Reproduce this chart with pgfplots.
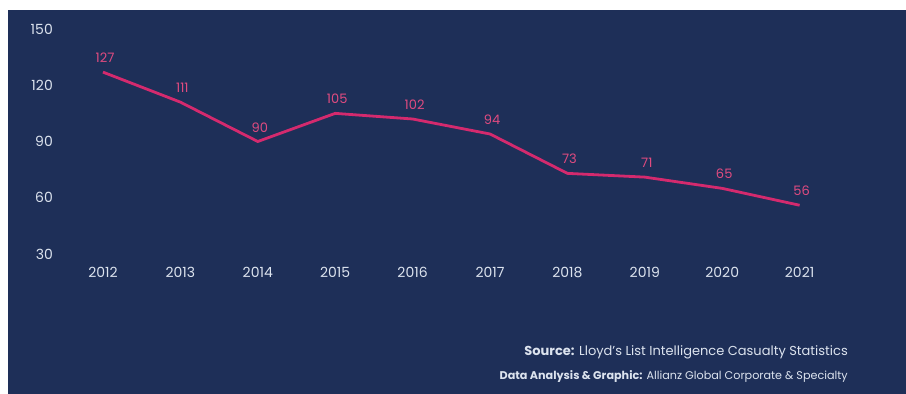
\documentclass[border=0pt]{standalone}
\usepackage{fontspec}
\setmainfont{Poppins}
\usepackage{pgfplots}
\pgfplotsset{compat=1.18}
\definecolor{navy}{HTML}{1E2F58}
\definecolor{linepink}{HTML}{D42A6E}
\definecolor{lblpink}{HTML}{E04B80}
\definecolor{txt}{HTML}{DCE3EE}
\begin{document}
\begin{tikzpicture}[x=1pt,y=1pt]
\fill[white] (0,0) rectangle (906,394);
\fill[navy] (8,0) rectangle (906,384);
\begin{axis}[
  at={(55pt,140pt)}, anchor=south west, scale only axis,
  width=783.3pt, height=225pt,
  xmin=-0.62, xmax=9.5, ymin=30, ymax=150,
  ytick={30,60,90,120,150},
  xtick={0,...,9},
  xticklabels={2012,2013,2014,2015,2016,2017,2018,2019,2020,2021},
  axis line style={draw=none},
  major tick length=0pt,
  clip=false,
  /pgf/number format/assume math mode=true,
  ticklabel style={text=txt, font=\fontsize{14}{16}\selectfont},
  yticklabel style={anchor=east, inner sep=0pt, xshift=-2pt},
  xticklabel style={anchor=center, inner sep=0pt, yshift=-18pt},
  nodes near coords,
  nodes near coords style={text=lblpink, font=\fontsize{13}{15}\selectfont, anchor=south, inner sep=0pt, yshift=8pt, xshift=2pt},
]
\addplot[linepink, line width=2.8pt, line join=round, mark=none] coordinates {
  (0,127) (1,111) (2,90) (3,105) (4,102) (5,94) (6,73) (7,71) (8,65) (9,56)
};
\end{axis}
\node[anchor=east, text=txt, font=\fontsize{13}{15}\selectfont, inner sep=0pt] at (848,42) {\textbf{Source:} Lloyd's List Intelligence Casualty Statistics};
\node[anchor=east, text=txt, font=\fontsize{11.2}{13}\selectfont, inner sep=0pt] at (848,17) {\textbf{Data Analysis \& Graphic:} Allianz Global Corporate \& Specialty};
\end{tikzpicture}
\end{document}
